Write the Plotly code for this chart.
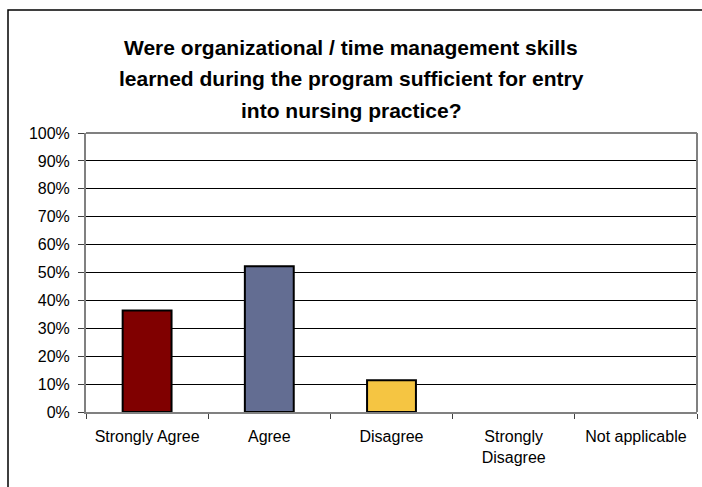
import plotly.graph_objects as go

categories = ["Strongly Agree", "Agree", "Disagree", "Strongly<br>Disagree", "Not applicable"]
shares = [0.3636, 0.5227, 0.1136, 0.0, 0.0]
bar_colors = ["#800000", "#636D92", "#F5C542", "#FFFFFF", "#FFFFFF"]

title_lines = [
    "Were organizational / time management skills",
    "learned during the program sufficient for entry",
    "into nursing practice?",
]

W, H = 702, 487
ml, mr, mt, mb = 86, 5, 133, 75
FONT = "Liberation Sans, Arial, sans-serif"

# no outline on empty bars
outline = [2 if v > 0 else 0 for v in shares]

fig = go.Figure(go.Bar(
    x=categories, y=shares,
    marker=dict(color=bar_colors, line=dict(color="#000000", width=outline)),
    width=0.4,
    hoverinfo="x+y",
))

fig.update_layout(
    width=W, height=H,
    margin=dict(l=ml, r=mr, t=mt, b=mb),
    paper_bgcolor="white", plot_bgcolor="white",
    font=dict(family=FONT, size=16, color="#000000"),
    showlegend=False,
)

fig.update_yaxes(
    range=[0, 1], tickformat=".0%", dtick=0.1,
    showgrid=True, gridcolor="#000000", gridwidth=1,
    showline=True, linecolor="#808080", linewidth=2,
    ticks="outside", ticklen=6, tickcolor="#404040",
    ticklabelstandoff=5,
    zeroline=False, fixedrange=True,
)
fig.update_xaxes(
    showline=True, linecolor="#808080", linewidth=2,
    ticks="outside", tickson="boundaries", ticklen=5, tickcolor="#404040",
    ticklabelstandoff=9,
    showgrid=False, fixedrange=True,
)

# plot-area border (top and right, grey) and outer chart frame (left/top visible)
pw = W - ml - mr
ph = H - mt - mb
fig.add_shape(type="line", xref="paper", yref="paper", x0=0, x1=1, y0=1, y1=1,
              line=dict(color="#808080", width=2))
fig.add_shape(type="line", xref="paper", yref="paper", x0=1, x1=1, y0=0, y1=1,
              line=dict(color="#808080", width=2))
fig.add_shape(type="rect", xref="paper", yref="paper",
              x0=(8 - ml) / pw, x1=(W + 20 - ml) / pw,
              y0=(-mb - 20) / ph, y1=(H - mb - 10) / ph,
              line=dict(color="#000000", width=1.5), layer="below")

title_y = [47, 79, 110]
for line, yy in zip(title_lines, title_y):
    fig.add_annotation(
        text="<b>" + line + "</b>", xref="paper", yref="paper",
        x=(351 - ml) / pw, y=(H - mb - yy) / ph, showarrow=False,
        xanchor="center", yanchor="middle",
        font=dict(size=21, family=FONT),
    )

fig.write_html("out.html", config={"displayModeBar": False},
               post_script="document.body.style.margin='0';")
